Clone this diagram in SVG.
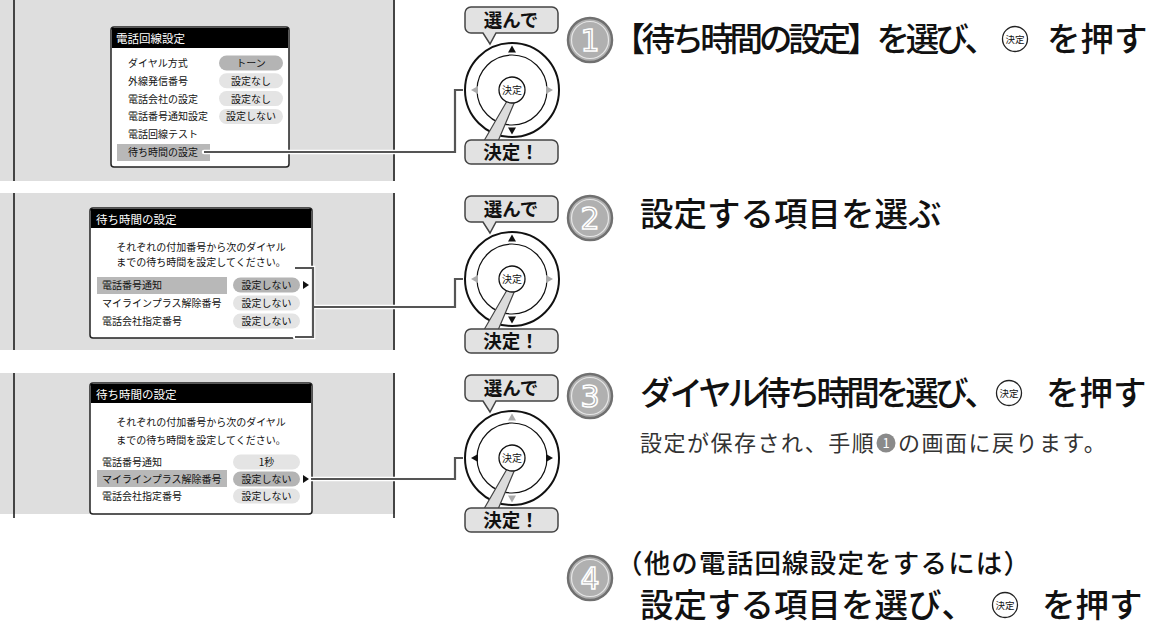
<svg xmlns="http://www.w3.org/2000/svg" width="1163" height="629" viewBox="0 0 1163 629">
<style>
text{font-family:"Noto Sans CJK JP","Noto Sans CJK SC",sans-serif;}
.pbg{fill:#dedede;}
.pl{stroke:#111;stroke-width:1.5;}
.dlg{fill:#fff;stroke:#222;stroke-width:1.5;}
.tbar{fill:#000;}
.ttl{fill:#fff;font-size:11.5px;}
.row{fill:#111;font-size:10px;}
.ctr{text-anchor:middle;}
.hl{fill:#b8b8b8;}
.pd{fill:#b4b4b4;}
.pk{fill:#e4e4e4;}
.bubble{fill:#e2e2e2;stroke:#444;stroke-width:1.5;}
.btxt{font-size:18.5px;font-weight:700;text-anchor:middle;fill:#111;}
.ring{fill:#fff;stroke:#111;stroke-width:2;}
.ring2{fill:none;stroke:#111;stroke-width:1.2;}
.btn{fill:#fff;stroke:#111;stroke-width:1.3;}
.btntxt{font-size:10px;text-anchor:middle;fill:#111;}
.on{fill:#111;}
.off{fill:#aaa;}
.wedge{fill:#dcdcdc;stroke:#444;stroke-width:1.2;}
.snum{fill:#b0b0b0;stroke:#707070;stroke-width:2.5;}
.sin{fill:none;stroke:#e6e6e6;stroke-width:1.2;}
.sdig{font-family:"DejaVu Sans",sans-serif;font-size:30px;text-anchor:middle;fill:#a8a8a8;stroke:#fff;stroke-width:1.6;}
.head{font-size:33.5px;font-weight:500;fill:#111;}
.sub{font-size:22px;fill:#333;letter-spacing:1.5px;}
.ico{fill:#fff;stroke:#222;stroke-width:1.3;}
.icot{font-size:9.5px;text-anchor:middle;fill:#111;}
.cw{fill:none;stroke:#fff;stroke-width:4.5;stroke-linecap:round;stroke-linejoin:miter;}
.cl{fill:none;stroke:#555;stroke-width:2.2;stroke-linejoin:miter;}
</style>

<!-- Panel 1 -->
<g id="panel1">
  <rect class="pbg" x="0" y="0" width="395" height="181"/>
  <line class="pl" x1="14" y1="0" x2="14" y2="181"/>
  <line class="pl" x1="394" y1="0" x2="394" y2="181"/>
  <rect class="dlg" x="111" y="27" width="178" height="140" rx="3"/>
  <rect class="tbar" x="112" y="28" width="176" height="20"/>
  <text class="ttl" x="116" y="43">電話回線設定</text>
  <rect class="pd" x="219" y="55.5" width="64" height="15" rx="7.5"/>
  <rect class="pk" x="219" y="73.3" width="64" height="15" rx="7.5"/>
  <rect class="pk" x="219" y="91.1" width="64" height="15" rx="7.5"/>
  <rect class="pk" x="219" y="108.9" width="64" height="15" rx="7.5"/>
  <rect class="hl" x="117" y="144" width="93" height="17"/>
  <text class="row" x="128" y="67">ダイヤル方式</text>
  <text class="row" x="128" y="84.8">外線発信番号</text>
  <text class="row" x="128" y="102.6">電話会社の設定</text>
  <text class="row" x="128" y="120.4">電話番号通知設定</text>
  <text class="row" x="128" y="138.2">電話回線テスト</text>
  <text class="row" x="128" y="156">待ち時間の設定</text>
  <text class="row ctr" x="251" y="67">トーン</text>
  <text class="row ctr" x="251" y="84.8">設定なし</text>
  <text class="row ctr" x="251" y="102.6">設定なし</text>
  <text class="row ctr" x="251" y="120.4">設定しない</text>
</g>

<!-- Panel 2 -->
<g id="panel2">
  <rect class="pbg" x="0" y="193" width="395" height="157"/>
  <line class="pl" x1="14" y1="193" x2="14" y2="350"/>
  <line class="pl" x1="394" y1="193" x2="394" y2="350"/>
  <rect class="dlg" x="90" y="208" width="222" height="130" rx="3"/>
  <rect class="tbar" x="91" y="209" width="220" height="19"/>
  <text class="ttl" x="96" y="223.5">待ち時間の設定</text>
  <text class="row ctr" x="201" y="250.5">それぞれの付加番号から次のダイヤル</text>
  <text class="row ctr" x="201" y="266">までの待ち時間を設定してください。</text>
  <rect class="hl" x="97" y="277" width="130" height="17"/>
  <rect class="pd" x="233" y="277.5" width="67" height="15" rx="7.5"/>
  <rect class="pk" x="233" y="295.5" width="67" height="15" rx="7.5"/>
  <rect class="pk" x="233" y="313.5" width="67" height="15" rx="7.5"/>
  <text class="row" x="102" y="289">電話番号通知</text>
  <text class="row" x="102" y="307">マイラインプラス解除番号</text>
  <text class="row" x="102" y="325">電話会社指定番号</text>
  <text class="row ctr" x="266.5" y="289">設定しない</text>
  <text class="row ctr" x="266.5" y="307">設定しない</text>
  <text class="row ctr" x="266.5" y="325">設定しない</text>
  <path class="on" d="M303,281 L309,285 L303,289 Z"/>
</g>

<!-- Panel 3 -->
<g id="panel3">
  <rect class="pbg" x="0" y="373" width="395" height="141"/>
  <line class="pl" x1="14" y1="373" x2="14" y2="518"/>
  <line class="pl" x1="394" y1="373" x2="394" y2="518"/>
  <rect class="dlg" x="90" y="383" width="222" height="131" rx="3"/>
  <rect class="tbar" x="91" y="384" width="220" height="19"/>
  <text class="ttl" x="96" y="398.5">待ち時間の設定</text>
  <text class="row ctr" x="201" y="425.5">それぞれの付加番号から次のダイヤル</text>
  <text class="row ctr" x="201" y="443.5">までの待ち時間を設定してください。</text>
  <rect class="hl" x="97" y="470" width="130" height="17"/>
  <rect class="pk" x="233" y="454.5" width="67" height="15" rx="7.5"/>
  <rect class="pd" x="233" y="471.5" width="67" height="15" rx="7.5"/>
  <rect class="pk" x="233" y="488.5" width="67" height="15" rx="7.5"/>
  <text class="row" x="102" y="466">電話番号通知</text>
  <text class="row" x="102" y="483">マイラインプラス解除番号</text>
  <text class="row" x="102" y="500">電話会社指定番号</text>
  <text class="row ctr" x="266.5" y="466">1秒</text>
  <text class="row ctr" x="266.5" y="483">設定しない</text>
  <text class="row ctr" x="266.5" y="500">設定しない</text>
  <path class="on" d="M303,475 L309,479 L303,483 Z"/>
</g>

<!-- Connectors -->
<g id="connectors">
  <path class="cw" d="M204,152 H455 V90 H463"/>
  <path class="cl" d="M204,152 H455 V90 H463"/>
  <path class="cw" d="M295,268 H313 V337 H295 M313,307 H455 V279 H463"/>
  <path class="cl" d="M295,268 H313 V337 H295 M313,307 H455 V279 H463"/>
  <path class="cw" d="M311,479 H455 V458 H463"/>
  <path class="cl" d="M311,479 H455 V458 H463"/>
</g>

<!-- Remotes -->
<g id="remote1">
  <path class="bubble" d="M471,7 H552 A6,6 0 0 1 558,13 V27 A6,6 0 0 1 552,33 H496 L490,44 L483,33 H471 A6,6 0 0 1 465,27 V13 A6,6 0 0 1 471,7 Z"/>
  <text class="btxt" x="511" y="27">選んで</text>
  <circle class="ring" cx="512" cy="90" r="47"/>
  <circle class="ring2" cx="512" cy="90" r="35"/>
  <path class="on" d="M512,45.5 L508,52.5 L516,52.5 Z"/>
  <path class="on" d="M512,134.5 L508,127.5 L516,127.5 Z"/>
  <path class="off" d="M471,90 L478,86 L478,94 Z"/>
  <path class="off" d="M553,90 L546,86 L546,94 Z"/>
  <path class="wedge" d="M481,146 L507,101 L515,101 L496,146 Z"/>
  <circle class="btn" cx="512" cy="90" r="13"/>
  <text class="btntxt" x="512" y="93.5">決定</text>
  <rect class="bubble" x="465" y="140" width="93" height="24" rx="6"/>
  <text class="btxt" x="511" y="159">決定！</text>
</g>
<g id="remote2" transform="translate(0,189)">
  <path class="bubble" d="M471,7 H552 A6,6 0 0 1 558,13 V27 A6,6 0 0 1 552,33 H496 L490,44 L483,33 H471 A6,6 0 0 1 465,27 V13 A6,6 0 0 1 471,7 Z"/>
  <text class="btxt" x="511" y="27">選んで</text>
  <circle class="ring" cx="512" cy="90" r="47"/>
  <circle class="ring2" cx="512" cy="90" r="35"/>
  <path class="on" d="M512,45.5 L508,52.5 L516,52.5 Z"/>
  <path class="on" d="M512,134.5 L508,127.5 L516,127.5 Z"/>
  <path class="off" d="M471,90 L478,86 L478,94 Z"/>
  <path class="off" d="M553,90 L546,86 L546,94 Z"/>
  <path class="wedge" d="M481,146 L507,101 L515,101 L496,146 Z"/>
  <circle class="btn" cx="512" cy="90" r="13"/>
  <text class="btntxt" x="512" y="93.5">決定</text>
  <rect class="bubble" x="465" y="140" width="93" height="24" rx="6"/>
  <text class="btxt" x="511" y="159">決定！</text>
</g>
<g id="remote3" transform="translate(0,368)">
  <path class="bubble" d="M471,7 H552 A6,6 0 0 1 558,13 V27 A6,6 0 0 1 552,33 H496 L490,44 L483,33 H471 A6,6 0 0 1 465,27 V13 A6,6 0 0 1 471,7 Z"/>
  <text class="btxt" x="511" y="27">選んで</text>
  <circle class="ring" cx="512" cy="90" r="47"/>
  <circle class="ring2" cx="512" cy="90" r="35"/>
  <path class="off" d="M512,45.5 L508,52.5 L516,52.5 Z"/>
  <path class="off" d="M512,134.5 L508,127.5 L516,127.5 Z"/>
  <path class="on" d="M471,90 L478,86 L478,94 Z"/>
  <path class="on" d="M553,90 L546,86 L546,94 Z"/>
  <path class="wedge" d="M481,146 L507,101 L515,101 L496,146 Z"/>
  <circle class="btn" cx="512" cy="90" r="13"/>
  <text class="btntxt" x="512" y="93.5">決定</text>
  <rect class="bubble" x="465" y="140" width="93" height="24" rx="6"/>
  <text class="btxt" x="511" y="159">決定！</text>
</g>

<!-- Steps -->
<g id="step1">
  <circle class="snum" cx="590" cy="40" r="22"/>
  <circle class="sin" cx="590" cy="40" r="18.5"/>
  <text class="sdig" x="590" y="51">1</text>
  <text class="head" x="612" y="51" textLength="386" lengthAdjust="spacing">【待ち時間の設定】を選び、</text>
  <circle class="ico" cx="1015" cy="39" r="12.5"/>
  <text class="icot" x="1015" y="42.5">決定</text>
  <text class="head" x="1047" y="51">を押す</text>
</g>
<g id="step2">
  <circle class="snum" cx="590" cy="218" r="22"/>
  <circle class="sin" cx="590" cy="218" r="18.5"/>
  <text class="sdig" x="590" y="229">2</text>
  <text class="head" x="640" y="226">設定する項目を選ぶ</text>
</g>
<g id="step3">
  <circle class="snum" cx="590" cy="396" r="22"/>
  <circle class="sin" cx="590" cy="396" r="18.5"/>
  <text class="sdig" x="590" y="407">3</text>
  <text class="head" x="640" y="405" textLength="358" lengthAdjust="spacing">ダイヤル待ち時間を選び、</text>
  <circle class="ico" cx="1009" cy="393" r="12.5"/>
  <text class="icot" x="1009" y="396.5">決定</text>
  <text class="head" x="1046" y="405">を押す</text>
  <text class="sub" x="640" y="451">設定が保存され、手順</text>
  <circle cx="886" cy="443" r="9.5" fill="#8a8a8a"/>
  <text x="886" y="448" font-size="13" font-family="Liberation Sans, sans-serif" text-anchor="middle" fill="#fff">1</text>
  <text class="sub" x="898" y="451">の画面に戻ります。</text>
</g>
<g id="step4">
  <circle class="snum" cx="590" cy="578" r="22"/>
  <circle class="sin" cx="590" cy="578" r="18.5"/>
  <text class="sdig" x="590" y="589">4</text>
  <text class="head" x="616" y="573" style="font-size:26.5px" textLength="414" lengthAdjust="spacing">（他の電話回線設定をするには）</text>
  <text class="head" x="640" y="617">設定する項目を選び、</text>
  <circle class="ico" cx="1005" cy="605" r="12.5"/>
  <text class="icot" x="1005" y="608.5">決定</text>
  <text class="head" x="1042" y="617">を押す</text>
</g>
</svg>
